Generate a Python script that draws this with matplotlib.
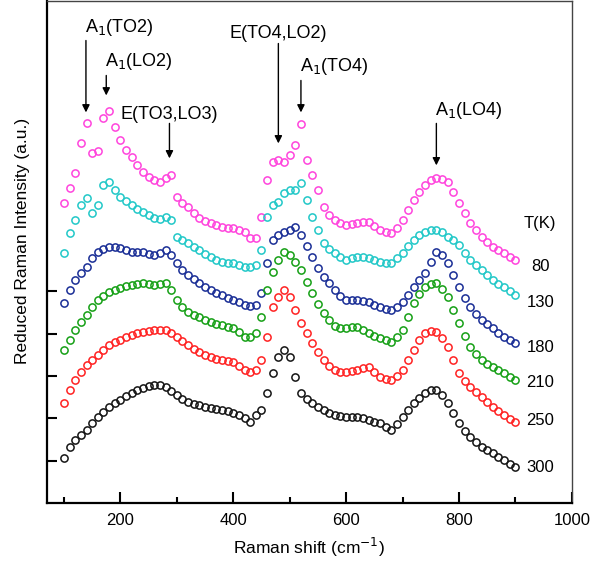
"""
Reduced Raman spectra at several temperatures, offset vertically.
"""

import matplotlib

matplotlib.use("Agg")
import matplotlib.pyplot as plt
import numpy as np

plt.rcParams["font.family"] = ["Liberation Sans", "DejaVu Sans"]

# Raman shift (cm^-1), sampled every 10 cm^-1
shift = np.arange(100, 901, 10)

temps = ["80", "130", "180", "210", "250", "300"]
colors = ["#ff44dd", "#22c8c8", "#1a2e96", "#16a016", "#ff2222", "#151515"]

# offset spectra (a.u.)
s80 = [300, 315, 330, 360, 380, 350, 352, 385, 392, 376,
       363, 353, 346, 338, 331, 326, 323, 321, 325, 328,
       306, 300, 296, 290, 285, 282, 280, 278, 276, 275,
       275, 273, 271, 265, 265, 286, 323, 341, 343, 341,
       348, 358, 379, 343, 328, 313, 296, 288, 283, 280,
       278, 279, 280, 281, 281, 277, 273, 271, 270, 275,
       283, 293, 303, 311, 318, 323, 325, 324, 321, 311,
       300, 290, 280, 273, 266, 261, 256, 253, 250, 246,
       243]
s130 = [250, 270, 283, 298, 305, 290, 298, 318, 321, 313,
        306, 302, 298, 294, 291, 288, 285, 284, 286, 283,
        266, 263, 260, 256, 253, 249, 246, 243, 241, 240,
        240, 238, 236, 236, 238, 253, 286, 298, 301, 310,
        313, 313, 320, 303, 286, 273, 260, 254, 250, 246,
        243, 245, 246, 246, 245, 243, 241, 240, 240, 245,
        250, 257, 263, 268, 271, 273, 273, 271, 266, 263,
        258, 250, 243, 238, 233, 228, 223, 219, 216, 212,
        208]
s180 = [200, 213, 223, 230, 236, 245, 251, 254, 256, 256,
        255, 253, 251, 251, 251, 249, 248, 250, 253, 248,
        240, 233, 228, 224, 220, 216, 213, 210, 208, 205,
        203, 201, 198, 197, 198, 210, 240, 263, 268, 271,
        273, 276, 268, 257, 246, 235, 226, 220, 213, 207,
        203, 203, 203, 202, 201, 198, 196, 194, 193, 196,
        201, 208, 216, 223, 230, 241, 251, 248, 240, 228,
        216, 205, 196, 189, 183, 179, 175, 170, 166, 163,
        160]
s210 = [153, 163, 173, 181, 188, 196, 203, 207, 211, 213,
        215, 217, 218, 219, 220, 219, 218, 219, 220, 213,
        203, 196, 191, 188, 186, 183, 181, 179, 178, 176,
        175, 171, 166, 166, 170, 186, 213, 231, 243, 251,
        248, 241, 233, 221, 210, 199, 190, 183, 177, 175,
        175, 176, 176, 173, 170, 167, 165, 163, 161, 166,
        173, 186, 200, 209, 216, 219, 220, 214, 206, 193,
        180, 167, 156, 149, 143, 139, 136, 133, 130, 126,
        123]
s250 = [100, 113, 123, 131, 138, 143, 148, 153, 158, 161,
        163, 166, 168, 170, 171, 172, 173, 173, 173, 170,
        166, 162, 158, 154, 151, 148, 146, 144, 143, 142,
        141, 137, 133, 131, 133, 143, 166, 196, 206, 213,
        206, 193, 180, 170, 160, 151, 143, 137, 133, 131,
        131, 132, 133, 135, 136, 131, 126, 124, 123, 127,
        133, 143, 153, 163, 170, 172, 171, 165, 156, 143,
        130, 122, 116, 111, 106, 101, 96, 92, 88, 84,
        81]
s300 = [45, 56, 63, 68, 73, 80, 86, 91, 96, 100,
        103, 107, 110, 113, 115, 117, 118, 118, 116, 112,
        108, 104, 101, 99, 98, 96, 95, 94, 93, 92,
        90, 88, 85, 81, 88, 93, 110, 130, 146, 153,
        146, 126, 110, 104, 100, 96, 93, 90, 88, 87,
        86, 86, 86, 85, 83, 81, 80, 76, 73, 79,
        86, 93, 100, 105, 110, 113, 113, 108, 100, 90,
        80, 72, 66, 61, 56, 53, 50, 46, 43, 39,
        36]
spectra = [s80, s130, s180, s210, s250, s300]

# mode assignments: (label, position in cm^-1)
modes = [("A$_1$(TO2)", 139), ("A$_1$(LO2)", 175), ("E(TO3,LO3)", 287),
         ("E(TO4,LO2)", 480), ("A$_1$(TO4)", 520), ("A$_1$(LO4)", 760)]

fig = plt.figure(figsize=(5.95, 5.67), dpi=100)
ax = fig.add_axes([0.079, 0.113, 0.882, 0.886])

for vals, c in zip(spectra, colors):
    ax.plot(shift, vals, "o", ls="none", mfc="none", mec=c, ms=5.2, mew=1.1)

# temperature labels on the right
label_y = [237, 201, 156, 121, 83, 35]
ax.text(944, 280, "T(K)", ha="center", va="center", fontsize=12)
for t, y in zip(temps, label_y):
    ax.text(944, y, t, ha="center", va="center", fontsize=12)

# arrows: text y, arrow tail y, arrow tip y, alignment
arrow_geom = [(476, 463, 391, "left"), (442, 428, 408, "left"),
              (389, 380, 345, "center"), (470, 460, 360, "center"),
              (437, 423, 391, "left"), (393, 380, 338, "left")]
for (name, x), (ty, y0, y1, ha) in zip(modes, arrow_geom):
    ax.text(x - (2 if ha == "left" else 0), ty, name, ha=ha, va="center",
            fontsize=13)
    ax.annotate("", xy=(x, y1), xytext=(x, y0),
                arrowprops=dict(arrowstyle="-|>", color="k", lw=1.0,
                                mutation_scale=11, shrinkA=0, shrinkB=0))

ax.set_xlim(70, 1000)
ax.set_ylim(0, 503)
ax.set_xticks([200, 400, 600, 800, 1000])
ax.set_xticks(np.arange(100, 1000, 200), minor=True)
ax.set_yticks(np.arange(1, 6) * 42.4)
ax.set_yticklabels([])
ax.tick_params(axis="x", direction="in", length=8, width=1.5, labelsize=12,
               pad=7)
ax.tick_params(axis="x", which="minor", direction="in", length=4, width=1.5)
ax.tick_params(axis="y", direction="in", length=7, width=1.5)

for side in ["left", "bottom"]:
    ax.spines[side].set_linewidth(1.6)
for side in ["top", "right"]:
    ax.spines[side].set_linewidth(1.0)
    ax.spines[side].set_color("#444444")

ax.set_xlabel("Raman shift (cm$^{-1}$)", fontsize=12.5, labelpad=6)
ax.set_ylabel("Reduced Raman Intensity (a.u.)", fontsize=12.5)
ax.yaxis.set_label_coords(-0.032, 0.522)

fig.savefig("out.png", dpi=100)
plt.close(fig)
